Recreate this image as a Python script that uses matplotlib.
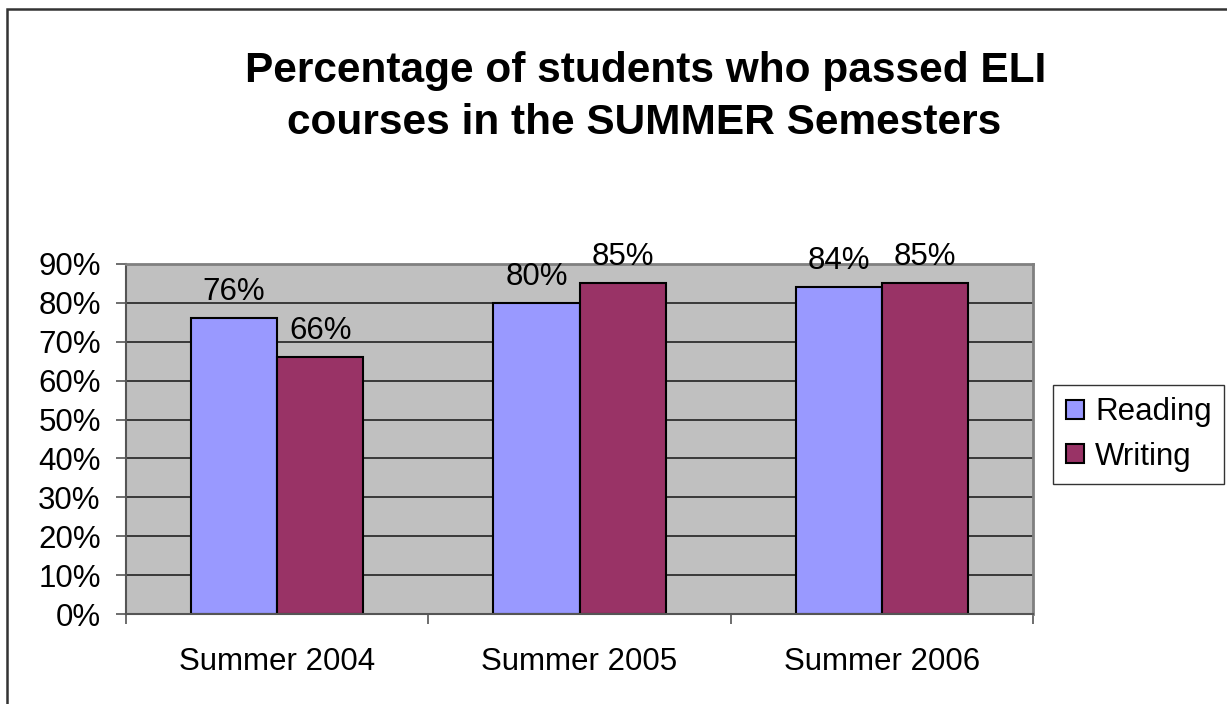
import matplotlib
matplotlib.use("Agg")
import matplotlib.pyplot as plt
from matplotlib.patches import Rectangle
import numpy as np

categories = ["Summer 2004", "Summer 2005", "Summer 2006"]
reading = [0.76, 0.80, 0.84]
writing = [0.66, 0.85, 0.85]
series_names = ["Reading", "Writing"]
yticks = [0.0, 0.1, 0.2, 0.3, 0.4, 0.5, 0.6, 0.7, 0.8, 0.9]
title_lines = ["Percentage of students who passed ELI",
               "courses in the SUMMER Semesters"]

plt.rcParams['font.family'] = ['Liberation Sans', 'DejaVu Sans']

W, H = 1227, 704
fig = plt.figure(figsize=(W / 100, H / 100), dpi=100)
fig.patch.set_facecolor('white')

# outer chart border (only left/top visible)
fig.patches.append(Rectangle((7 / W, -0.05), 1.2, 1 - 9 / H + 0.05,
                             transform=fig.transFigure, fill=False,
                             edgecolor='#333333', linewidth=1.8, zorder=0))

ax = fig.add_axes([126 / W, (H - 614) / H, (1033 - 126) / W, (614 - 264) / H])
ax.set_facecolor('#C0C0C0')

FS = 22.5
x = np.arange(len(categories))
bw = 0.285
b1 = ax.bar(x - bw / 2, reading, bw, color='#9999FF', edgecolor='black',
            linewidth=1.5, label=series_names[0], zorder=3)
b2 = ax.bar(x + bw / 2, writing, bw, color='#993366', edgecolor='black',
            linewidth=1.5, label=series_names[1], zorder=3)

for bars, vals in ((b1, reading), (b2, writing)):
    for r, v in zip(bars, vals):
        ax.annotate(f"{round(v * 100)}%", (r.get_x() + r.get_width() / 2, v),
                    xytext=(0, 8), textcoords='offset points',
                    ha='center', va='bottom', fontsize=FS, zorder=6,
                    annotation_clip=False)

ax.set_ylim(0, 0.9)
ax.set_xlim(-0.5, len(categories) - 0.5)
ax.set_yticks(yticks)
ax.set_yticklabels([f"{round(t * 100)}%" for t in yticks], fontsize=FS)
ax.yaxis.grid(True, color='#222222', linewidth=1.2, zorder=1)
ax.set_axisbelow(True)

ax.set_xticks(x)
ax.set_xticklabels(categories, fontsize=FS)
ax.tick_params(axis='x', which='major', length=0, pad=24)
ax.set_xticks(np.arange(-0.5, len(categories), 1.0), minor=True)
ax.tick_params(axis='x', which='minor', length=7.2, width=1.2, color='#555555', direction='out')
ax.tick_params(axis='y', length=7.2, width=1.2, color='#555555', direction='out', pad=11)

for s in ['top', 'right']:
    ax.spines[s].set_color('#808080')
    ax.spines[s].set_linewidth(2)
for s in ['left', 'bottom']:
    ax.spines[s].set_color('#555555')
    ax.spines[s].set_linewidth(1.5)
ax.spines['bottom'].set_zorder(5)

fig.text(646 / W, 1 - 82 / H, title_lines[0], ha='center', va='baseline',
         fontsize=30.5, fontweight='bold')
fig.text(644.5 / W, 1 - 134 / H, title_lines[1], ha='center', va='baseline',
         fontsize=30.5, fontweight='bold')

leg = ax.legend(loc='center left', bbox_to_anchor=(1053 / W, (H - 434.5) / H),
                bbox_transform=fig.transFigure, fontsize=FS, frameon=True,
                fancybox=False, edgecolor='black', handlelength=0.6,
                handleheight=0.6, handletextpad=0.35, borderpad=0.4,
                labelspacing=0.45, borderaxespad=0)
leg.get_frame().set_linewidth(1.0)

fig.savefig("out.png", dpi=100)
